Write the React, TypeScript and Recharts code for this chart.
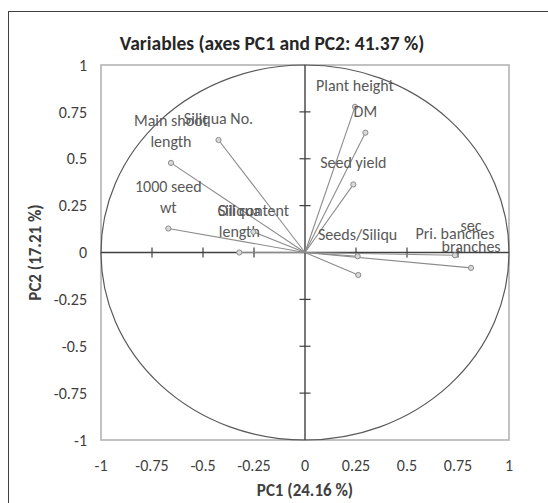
import {
  ScatterChart,
  Scatter,
  XAxis,
  YAxis,
  ReferenceLine,
  ReferenceArea,
} from "recharts";

// variable labels ("\n" = line break, as in the original plot)
const LABELS = [
  "Plant height",
  "DM",
  "Seed yield",
  "Seeds/Siliqu",
  "",
  "Pri. banches",
  "sec\nbranches",
  "Main shoot\nlength",
  "Siliqua No.",
  "1000 seed\nwt",
  "Siliqua\nlength",
  "Oil content",
];
const PC1 = [0.245, 0.296, 0.237, 0.258, 0.261, 0.735, 0.814, -0.657, -0.424, -0.67, -0.322, -0.253];
const PC2 = [0.777, 0.639, 0.363, -0.02, -0.12, -0.015, -0.082, 0.478, 0.6, 0.128, 0.0, 0.11];

const TICKS = [-1, -0.75, -0.5, -0.25, 0, 0.25, 0.5, 0.75, 1];
const INNER_TICKS = [-0.75, -0.5, -0.25, 0.25, 0.5, 0.75];
const TICK_HALF = 0.027;

const FONT = "Calibri, Carlito, 'Open Sans', sans-serif";
const TEXT = "#595959";

const data = LABELS.map((label, i) => ({ label, x: PC1[i], y: PC2[i] }));

function VarPoint(props: any) {
  const { cx, cy, payload } = props;
  const lines: string[] = payload.label ? payload.label.split("\n") : [];
  return (
    <g>
      <circle cx={cx} cy={cy} r={2.6} fill="#d9d9d9" stroke="#8c8c8c" strokeWidth={1} />
      {lines.map((line, k) => (
        <text
          key={k}
          x={cx}
          y={cy - 16 - 21 * (lines.length - 1 - k)}
          textAnchor="middle"
          fontSize={16}
          fontFamily={FONT}
          fill={TEXT}
        >
          {line}
        </text>
      ))}
    </g>
  );
}

function BoxAndCircle(props: any) {
  const { x, y, width, height } = props;
  return (
    <g>
      <rect x={x} y={y} width={width} height={height} fill="none" stroke="#b3b3b3" strokeWidth={1.6} />
      <ellipse
        cx={x + width / 2}
        cy={y + height / 2}
        rx={width / 2}
        ry={height / 2}
        fill="none"
        stroke="#595959"
        strokeWidth={1.2}
      />
    </g>
  );
}

export default function App() {
  return (
    <div
      style={{
        position: "absolute",
        left: 8,
        top: 11,
        width: 560,
        height: 510,
        borderTop: "1px solid #404040",
        borderLeft: "1px solid #404040",
        background: "#fff",
      }}
    >
      <div
        style={{
          position: "absolute",
          top: 19,
          left: 0,
          width: 526,
          lineHeight: "24px",
          textAlign: "center",
          fontFamily: FONT,
          fontWeight: 700,
          fontSize: 19.5,
          color: "#262626",
        }}
      >
        Variables (axes PC1 and PC2: 41.37 %)
      </div>
      <ScatterChart width={539} height={491} margin={{ top: 53, right: 39, bottom: 0, left: 0 }}>
        <XAxis
          type="number"
          dataKey="x"
          domain={[-1, 1]}
          ticks={TICKS}
          axisLine={false}
          tickLine={false}
          tickSize={0}
          tickMargin={20}
          height={63}
          tick={{ fontSize: 16, fontFamily: FONT, fill: "#404040" }}
          label={{
            content: (p: any) => (
              <text
                x={p.viewBox.x + p.viewBox.width / 2}
                y={p.viewBox.y + 56}
                textAnchor="middle"
                fontSize={17}
                fontWeight={700}
                fontFamily={FONT}
                fill="#404040"
              >
                PC1 (24.16 %)
              </text>
            ),
          }}
        />
        <YAxis
          type="number"
          dataKey="y"
          domain={[-1, 1]}
          ticks={TICKS}
          axisLine={false}
          tickLine={false}
          tickSize={0}
          tickMargin={14}
          width={92}
          tick={{ fontSize: 16, fontFamily: FONT, fill: "#404040" }}
          label={{
            content: (p: any) => {
              const cx = p.viewBox.x + 32;
              const cy = p.viewBox.y + p.viewBox.height / 2;
              return (
                <text
                  x={cx}
                  y={cy}
                  transform={`rotate(-90, ${cx}, ${cy})`}
                  textAnchor="middle"
                  fontSize={17}
                  fontWeight={700}
                  fontFamily={FONT}
                  fill="#404040"
                >
                  PC2 (17.21 %)
                </text>
              );
            },
          }}
        />
        <ReferenceArea x1={-1} x2={1} y1={-1} y2={1} shape={<BoxAndCircle />} />
        <ReferenceLine x={0} stroke="#404040" strokeWidth={1.4} />
        <ReferenceLine y={0} stroke="#404040" strokeWidth={1.4} />
        {INNER_TICKS.map((t) => (
          <ReferenceLine
            key={`xt${t}`}
            segment={[{ x: t, y: -TICK_HALF }, { x: t, y: TICK_HALF }]}
            stroke="#404040"
            strokeWidth={1.2}
          />
        ))}
        {INNER_TICKS.map((t) => (
          <ReferenceLine
            key={`yt${t}`}
            segment={[{ x: -TICK_HALF, y: t }, { x: TICK_HALF, y: t }]}
            stroke="#404040"
            strokeWidth={1.2}
          />
        ))}
        {data.map((d, i) => (
          <ReferenceLine
            key={`v${i}`}
            segment={[{ x: 0, y: 0 }, { x: d.x, y: d.y }]}
            stroke="#8c8c8c"
            strokeWidth={1.1}
          />
        ))}
        <Scatter data={data} shape={<VarPoint />} isAnimationActive={false} />
      </ScatterChart>
    </div>
  );
}
